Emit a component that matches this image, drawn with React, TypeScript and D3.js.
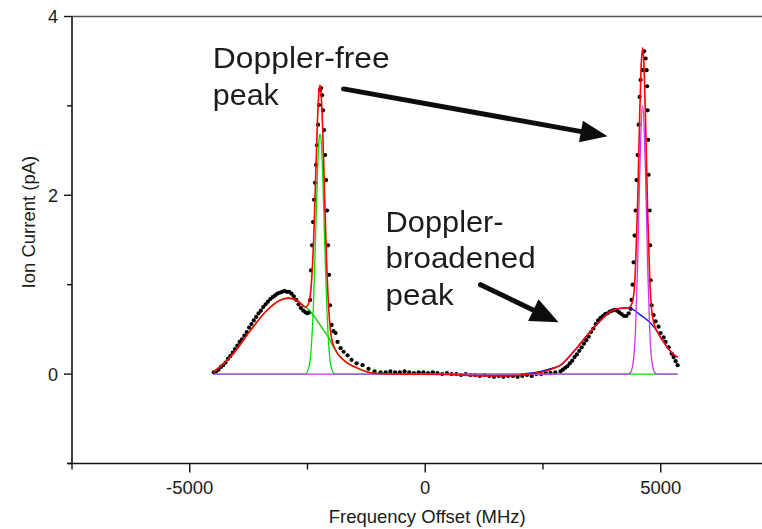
import React from "react";
import * as d3 from "d3";

// ---------- data (MHz, pA) ----------
const xTicksMajor = [-5000, 0, 5000];
const xTicksMinor = [-7500, -2500, 2500, 7500];
const yTicksMajor = [0, 2, 4];
const yTicksMinor = [-1, 1, 3];

const measured: [number, number][] = [
  // left broadened hump
  [-4490, 0.02], [-4440, 0.03], [-4390, 0.05], [-4340, 0.08], [-4290, 0.1], [-4240, 0.13],
  [-4190, 0.17], [-4140, 0.2], [-4090, 0.24], [-4040, 0.28], [-3990, 0.32], [-3940, 0.36],
  [-3890, 0.39], [-3840, 0.43], [-3790, 0.47], [-3740, 0.52], [-3690, 0.56], [-3640, 0.6],
  [-3590, 0.64], [-3540, 0.68], [-3490, 0.71], [-3440, 0.75], [-3390, 0.78], [-3340, 0.81],
  [-3290, 0.84], [-3240, 0.86], [-3190, 0.88], [-3140, 0.9], [-3090, 0.91], [-3040, 0.92],
  [-2990, 0.93], [-2940, 0.92], [-2890, 0.92], [-2840, 0.9], [-2790, 0.87], [-2740, 0.83],
  [-2690, 0.78], [-2640, 0.74], [-2590, 0.71], [-2540, 0.69], [-2500, 0.68], [-2470, 0.69],
  // left narrow peak
  [-2445, 0.83], [-2424, 1.16], [-2403, 1.44], [-2382, 1.7], [-2361, 1.95], [-2340, 2.14],
  [-2318, 2.34], [-2297, 2.56], [-2276, 2.79], [-2255, 3.01], [-2233, 3.18], [-2212, 3.2],
  [-2191, 3.12], [-2170, 2.95], [-2148, 2.73], [-2127, 2.45], [-2106, 2.17], [-2085, 1.83],
  [-2064, 1.44], [-2042, 1.11], [-2021, 0.77], [-1989, 0.55], [-1947, 0.48], [-1904, 0.46],
  [-1862, 0.36], [-1798, 0.29], [-1734, 0.25], [-1649, 0.21], [-1565, 0.16], [-1459, 0.12],
  [-1331, 0.1], [-1204, 0.06], [-1076, 0.03], [-949, 0.02],
  // flat middle
  [-840, 0.02], [-740, 0.03], [-640, 0.02], [-540, 0.02], [-440, 0.03], [-340, 0.02],
  [-240, 0.01], [-140, 0.02], [-40, 0.02], [60, 0.01], [160, 0.02], [260, 0.01], [360, 0.0],
  [460, 0.01], [560, 0.0], [660, 0.0], [760, -0.01], [860, 0.0], [960, -0.01], [1060, -0.01],
  [1160, -0.02], [1260, -0.01], [1360, -0.02], [1460, -0.03], [1560, -0.02], [1660, -0.03],
  [1760, -0.02], [1860, -0.02], [1960, -0.03], [2060, -0.02], [2160, -0.01], [2260, -0.02],
  [2360, 0.0], [2460, 0.0], [2560, 0.01], [2660, 0.01], [2760, 0.02],
  // right broadened hump
  [2870, 0.03], [2920, 0.05], [2970, 0.07], [3020, 0.09], [3070, 0.12], [3120, 0.15],
  [3170, 0.19], [3220, 0.22], [3270, 0.26], [3320, 0.3], [3370, 0.34], [3420, 0.38],
  [3470, 0.42], [3520, 0.47], [3570, 0.51], [3620, 0.56], [3670, 0.6], [3720, 0.63],
  [3770, 0.65], [3820, 0.67], [3870, 0.68], [3920, 0.7], [3970, 0.71], [4020, 0.72],
  [4070, 0.71], [4120, 0.69], [4170, 0.67], [4220, 0.65], [4270, 0.65], [4320, 0.68],
  [4360, 0.73],
  // right narrow peak
  [4381, 0.83], [4402, 1.0], [4424, 1.25], [4445, 1.55], [4466, 1.83], [4487, 2.17],
  [4509, 2.45], [4530, 2.79], [4551, 3.1], [4572, 3.29], [4615, 3.4], [4647, 3.61],
  [4679, 3.53], [4700, 3.4], [4710, 3.22], [4721, 2.95], [4732, 2.62], [4742, 2.23],
  [4764, 1.83], [4774, 1.44], [4785, 1.05], [4806, 0.77],
  // right tail
  [4848, 0.66], [4891, 0.59], [4954, 0.53], [4997, 0.46], [5061, 0.41], [5103, 0.36],
  [5167, 0.3], [5231, 0.23], [5273, 0.19], [5316, 0.145], [5358, 0.1],
];

const fitTotal: [number, number][] = [
  [-4490, 0.02], [-4065, 0.235], [-3709, 0.49], [-3348, 0.72], [-3072, 0.83], [-2902, 0.85],
  [-2711, 0.82], [-2541, 0.75], [-2477, 0.79], [-2424, 0.97], [-2371, 1.48], [-2329, 2.16],
  [-2286, 2.87], [-2254, 3.18], [-2233, 3.23], [-2212, 3.14], [-2180, 2.78], [-2138, 2.01],
  [-2095, 1.27], [-2042, 0.67], [-1989, 0.4], [-1915, 0.28], [-1734, 0.157], [-1438, 0.067],
  [-1098, 0.01], [-500, 0.0], [500, -0.005], [1200, -0.02], [1800, -0.02], [2023, -0.01],
  [2448, 0.02], [2660, 0.05], [2872, 0.1], [3148, 0.25], [3446, 0.44], [3722, 0.6],
  [3998, 0.72], [4253, 0.74], [4296, 0.74], [4360, 0.76], [4424, 0.88], [4466, 1.22],
  [4509, 1.92], [4551, 2.85], [4583, 3.43], [4615, 3.65], [4647, 3.41], [4679, 2.8],
  [4721, 1.83], [4764, 1.1], [4806, 0.73], [4870, 0.54], [4933, 0.47], [4997, 0.41],
  [5061, 0.36], [5167, 0.28], [5273, 0.22], [5358, 0.19],
];

const fitLeftBroad: [number, number][] = [
  [-4490, 0.02], [-4065, 0.235], [-3709, 0.49], [-3348, 0.72], [-3072, 0.83], [-2902, 0.85],
  [-2711, 0.82], [-2541, 0.75], [-2466, 0.72], [-2350, 0.64], [-2233, 0.55], [-2117, 0.46],
  [-2053, 0.41], [-1947, 0.3], [-1734, 0.157], [-1438, 0.067], [-1098, 0.01], [-500, 0.0],
];

const fitLeftNarrow: [number, number][] = [
  [-4490, 0], [-2552, 0], [-2477, 0.064], [-2424, 0.27], [-2371, 0.82], [-2329, 1.53],
  [-2286, 2.27], [-2254, 2.63], [-2233, 2.68], [-2212, 2.63], [-2180, 2.27], [-2138, 1.53],
  [-2095, 0.82], [-2042, 0.27], [-1989, 0.064], [-1915, 0], [5358, 0],
];

const fitRightBroad: [number, number][] = [
  [2023, 0.0], [2448, 0.03], [2660, 0.06], [2872, 0.1], [3148, 0.25], [3446, 0.44],
  [3722, 0.6], [3998, 0.72], [4253, 0.74], [4317, 0.74], [4572, 0.66], [4785, 0.57],
  [4933, 0.47], [4997, 0.41], [5061, 0.36], [5167, 0.28], [5273, 0.22], [5358, 0.19],
];

const fitRightNarrow: [number, number][] = [
  [-4490, 0], [4296, 0], [4360, 0.018], [4424, 0.17], [4466, 0.52], [4509, 1.23],
  [4551, 2.18], [4583, 2.77], [4615, 3.0], [4647, 2.77], [4679, 2.18], [4721, 1.23],
  [4764, 0.52], [4806, 0.17], [4870, 0.018], [4933, 0], [5358, 0],
];

// annotations in data coordinates
const labelFree = { lines: ["Doppler-free", "peak"], widths: [177, 66], x: -4511, y: 3.42 };
const labelBroad = { lines: ["Doppler-", "broadened", "peak"], widths: [118, 150, 68], x: -842, y: 1.59 };
const arrowFree = { from: [-1734, 3.19], to: [3870, 2.66] };
const arrowBroad = { from: [1174, 1.0], to: [2830, 0.58] };

const W = 762;
const H = 529;
const FONT = "'Liberation Sans', Arial, Helvetica, sans-serif";

export default function App() {
  const x = d3.scaleLinear().domain([-7500, 7500]).range([72, 778.5]);
  const y = d3.scaleLinear().domain([-1, 4]).range([463.5, 16.5]);
  const line = d3
    .line<[number, number]>()
    .x((d) => x(d[0]))
    .y((d) => y(d[1]))
    .curve(d3.curveMonotoneX);

  const arrow = (a: { from: number[]; to: number[] }, headLen: number, halfW: number, sw: number) => {
    const x0 = x(a.from[0]);
    const y0 = y(a.from[1]);
    const x1 = x(a.to[0]);
    const y1 = y(a.to[1]);
    const dx = x1 - x0;
    const dy = y1 - y0;
    const L = Math.hypot(dx, dy);
    const ux = dx / L;
    const uy = dy / L;
    const bx = x1 - ux * headLen;
    const by = y1 - uy * headLen;
    const pts = [
      [x1, y1],
      [bx - uy * halfW, by + ux * halfW],
      [bx + uy * halfW, by - ux * halfW],
    ];
    return (
      <g>
        <line x1={x0} y1={y0} x2={bx + ux * 2} y2={by + uy * 2} stroke="#111" strokeWidth={sw} strokeLinecap="round" />
        <polygon points={pts.map((p) => p.join(",")).join(" ")} fill="#111" />
      </g>
    );
  };

  const label = (l: { lines: string[]; widths: number[]; x: number; y: number }) => (
    <g>
      {l.lines.map((t, i) => (
        <text
          key={t + i}
          x={x(l.x)}
          y={y(l.y) + i * 36.5}
          fontSize={29}
          fontFamily={FONT}
          fill="#1c1c1c"
          textLength={l.widths[i]}
          lengthAdjust="spacingAndGlyphs"
        >
          {t}
        </text>
      ))}
    </g>
  );

  return (
    <svg
      width={W}
      height={H}
      viewBox={`0 0 ${W} ${H}`}
      style={{ position: "absolute", left: 0, top: 0, background: "#fff", overflow: "hidden" }}
    >
      <rect x={0} y={0} width={W} height={H} fill="#fff" />
      <defs>
        <filter id="soft" x="-5%" y="-20%" width="110%" height="140%">
          <feGaussianBlur stdDeviation="0.45" />
        </filter>
      </defs>

      {/* top frame line */}
      <line x1={x(-7500)} x2={W} y1={y(4)} y2={y(4)} stroke="#555" strokeWidth={1.5} />

      {/* data points */}
      <g fill="#000">
        {measured.map((d, i) => (
          <circle key={i} cx={x(d[0])} cy={y(d[1])} r={2.1} />
        ))}
      </g>

      {/* fit components */}
      <path d={line(fitLeftBroad) || ""} fill="none" stroke="#00cc00" strokeWidth={1.3} />
      <path d={line(fitLeftNarrow) || ""} fill="none" stroke="#00e000" strokeWidth={1.3} />
      <path d={line(fitRightBroad) || ""} fill="none" stroke="#0000ff" strokeWidth={1.3} />
      <path d={line(fitRightNarrow) || ""} fill="none" stroke="#cc33ff" strokeWidth={1.3} />
      <path d={line(fitTotal) || ""} fill="none" stroke="#ff0000" strokeWidth={1.6} />

      {/* axes */}
      <line x1={x(-7500)} x2={x(-7500)} y1={y(4)} y2={y(-1)} stroke="#111" strokeWidth={1.6} />
      <line x1={x(-7500) - 4} x2={W} y1={y(-1)} y2={y(-1)} stroke="#111" strokeWidth={1.6} />
      {yTicksMajor.map((t) => (
        <g key={"ym" + t}>
          <line x1={x(-7500) - 8} x2={x(-7500)} y1={y(t)} y2={y(t)} stroke="#111" strokeWidth={1.4} />
          <text x={x(-7500) - 14} y={y(t)} dy="0.36em" textAnchor="end" fontSize={18} fontFamily={FONT} fill="#1a1a1a">
            {t}
          </text>
        </g>
      ))}
      {yTicksMinor.map((t) => (
        <line key={"yn" + t} x1={x(-7500) - 5} x2={x(-7500)} y1={y(t)} y2={y(t)} stroke="#111" strokeWidth={1.4} />
      ))}
      {xTicksMajor.map((t) => (
        <g key={"xm" + t}>
          <line x1={x(t)} x2={x(t)} y1={y(-1)} y2={y(-1) + 9} stroke="#111" strokeWidth={1.4} />
          <text x={x(t)} y={y(-1) + 30} textAnchor="middle" fontSize={18.5} fontFamily={FONT} fill="#1a1a1a">
            {t}
          </text>
        </g>
      ))}
      {xTicksMinor.map((t) => (
        <line key={"xn" + t} x1={x(t)} x2={x(t)} y1={y(-1)} y2={y(-1) + 6} stroke="#111" strokeWidth={1.4} />
      ))}

      <text
        x={(x(-7500) + x(7500)) / 2 + 2}
        y={523}
        textAnchor="middle"
        fontSize={18.5}
        fontFamily={FONT}
        fill="#1a1a1a"
      >
        Frequency Offset (MHz)
      </text>
      <text
        transform={`translate(35, ${y(1.7)}) rotate(-90)`}
        textAnchor="middle"
        fontSize={18.5}
        fontFamily={FONT}
        fill="#1a1a1a"
      >
        Ion Current (pA)
      </text>

      {/* annotations */}
      <g filter="url(#soft)">
        {label(labelFree)}
        {label(labelBroad)}
        {arrow(arrowFree, 27, 11, 5)}
        {arrow(arrowBroad, 28, 12, 5)}
      </g>
    </svg>
  );
}
